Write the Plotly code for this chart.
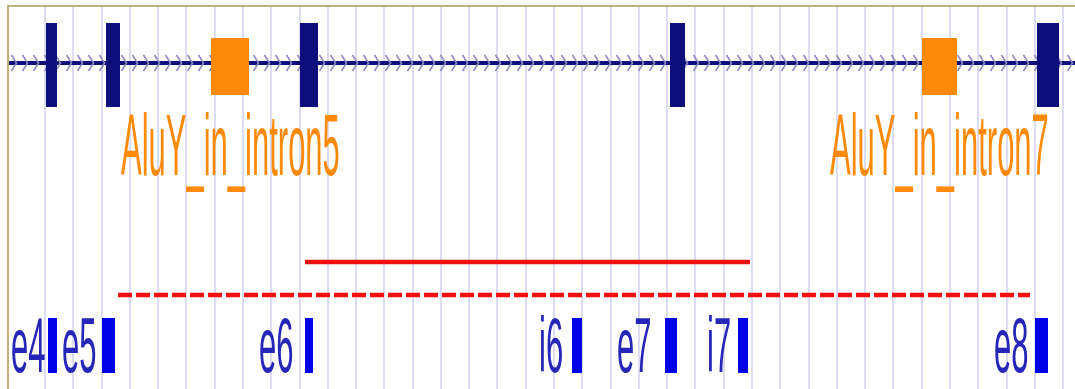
import numpy as np
import plotly.graph_objects as go

# ---- data (x in track coordinates) ----
exon_names = ["e4", "e5", "e6", "e7", "e8"]
exon_start = [46, 106, 300, 670, 1037]
exon_end = [57, 120, 318, 685, 1059]

alu_names = ["AluY_in_intron5", "AluY_in_intron7"]
alu_start = [211, 922]
alu_end = [249, 957]

feat_names = ["e4", "e5", "e6", "i6", "e7", "i7", "e8"]
feat_start = [48, 102, 305, 572, 665, 738, 1035]
feat_end = [57, 115, 313, 582, 677, 748, 1048]
feat_label_end = [47, 98, 295, 565, 653, 733, 1030]

region_start = [305, 118]
region_end = [750, 1030]
region_dash = ["solid", "14px,4px"]

track_start, track_end = 9, 1075
grid_first, grid_step = 45, 28.28
chevron_step = 11

# ---- styling ----
NAVY = "#0d0d7c"
ORANGE = "#ff8a0a"
BLUE = "#0000e8"
LABEL_BLUE = "#2626b8"
RED = "#f01010"
GRID = "#dcdcf2"
BORDER = "#c4b07e"

GENE_Y = 63
EXON_Y = (23, 107)
ALU_Y = (38, 95)
ALU_LABEL_Y = 145
FEAT_Y = (318, 373)
FEAT_LABEL_Y = 345
REGION_Y = [262, 295]
ALU_STRETCH = 2.8
FEAT_STRETCH = 2.5

fig = go.Figure()

# gene backbone
fig.add_trace(go.Scatter(x=[track_start, track_end], y=[GENE_Y, GENE_Y], mode="lines",
                         line=dict(color=NAVY, width=4), hoverinfo="skip", showlegend=False))
# intron direction chevrons
cx, cy = [], []
for x in np.arange(track_start + 5, track_end, chevron_step):
    cx += [x - 2.5, x + 2.5, x - 2.5, None]
    cy += [GENE_Y - 8, GENE_Y, GENE_Y + 8, None]
fig.add_trace(go.Scatter(x=cx, y=cy, mode="lines", line=dict(color="#8c8cc0", width=1.6),
                         hoverinfo="skip", showlegend=False))

# region lines
for s, e, d, y in zip(region_start, region_end, region_dash, REGION_Y):
    fig.add_trace(go.Scatter(x=[s, e], y=[y, y], mode="lines",
                             line=dict(color=RED, width=4.5, dash=d),
                             hoverinfo="skip", showlegend=False))

shapes = []
for s, e in zip(exon_start, exon_end):
    shapes.append(dict(type="rect", xref="x", yref="y", x0=s, x1=e, y0=EXON_Y[0], y1=EXON_Y[1],
                       fillcolor=NAVY, line=dict(width=0)))
for s, e in zip(alu_start, alu_end):
    shapes.append(dict(type="rect", xref="x", yref="y", x0=s, x1=e, y0=ALU_Y[0], y1=ALU_Y[1],
                       fillcolor=ORANGE, line=dict(width=0)))
for s, e in zip(feat_start, feat_end):
    shapes.append(dict(type="rect", xref="x", yref="y", x0=s, x1=e, y0=FEAT_Y[0], y1=FEAT_Y[1],
                       fillcolor=BLUE, line=dict(width=0)))

annotations = []
for name, s, e in zip(alu_names, alu_start, alu_end):
    annotations.append(dict(x=(s + e) / 2, y=ALU_LABEL_Y, xref="x", yref="y", text=name,
                            showarrow=False, xanchor="center", yanchor="middle",
                            font=dict(family="Liberation Sans, Arial", size=31, color=ORANGE),
                            name="alu"))
for name, le in zip(feat_names, feat_label_end):
    annotations.append(dict(x=le, y=FEAT_LABEL_Y, xref="x", yref="y", text=name,
                            showarrow=False, xanchor="right", yanchor="middle",
                            font=dict(family="Liberation Sans, Arial", size=31, color=LABEL_BLUE),
                            name="feat"))

fig.update_layout(
    width=1075, height=389,
    margin=dict(l=9, r=0, t=7, b=0),
    paper_bgcolor="white", plot_bgcolor="white",
    shapes=shapes, annotations=annotations,
    xaxis=dict(range=[track_start, track_end], side="top", showline=True, linecolor=BORDER,
               linewidth=2, showgrid=True, gridcolor=GRID, gridwidth=2,
               tickvals=list(np.arange(grid_first, track_end, grid_step)),
               showticklabels=False, ticks="", zeroline=False, fixedrange=True),
    yaxis=dict(range=[389, 7], showline=True, linecolor=BORDER, linewidth=2, showgrid=False,
               showticklabels=False, ticks="", zeroline=False, fixedrange=True),
)

n_alu = len(alu_names)
post = (
    "document.body.style.margin='0';"
    "document.querySelectorAll('.annotation-text').forEach(function(t,i){"
    "var s = i < " + str(n_alu) + " ? " + str(ALU_STRETCH) + " : " + str(FEAT_STRETCH) + ";"
    "t.style.transformBox='fill-box';"
    "t.style.transformOrigin='center';"
    "t.style.transform='scaleY(' + s + ')';"
    "});"
)
fig.write_html("out.html", config={"staticPlot": True}, post_script=post)
